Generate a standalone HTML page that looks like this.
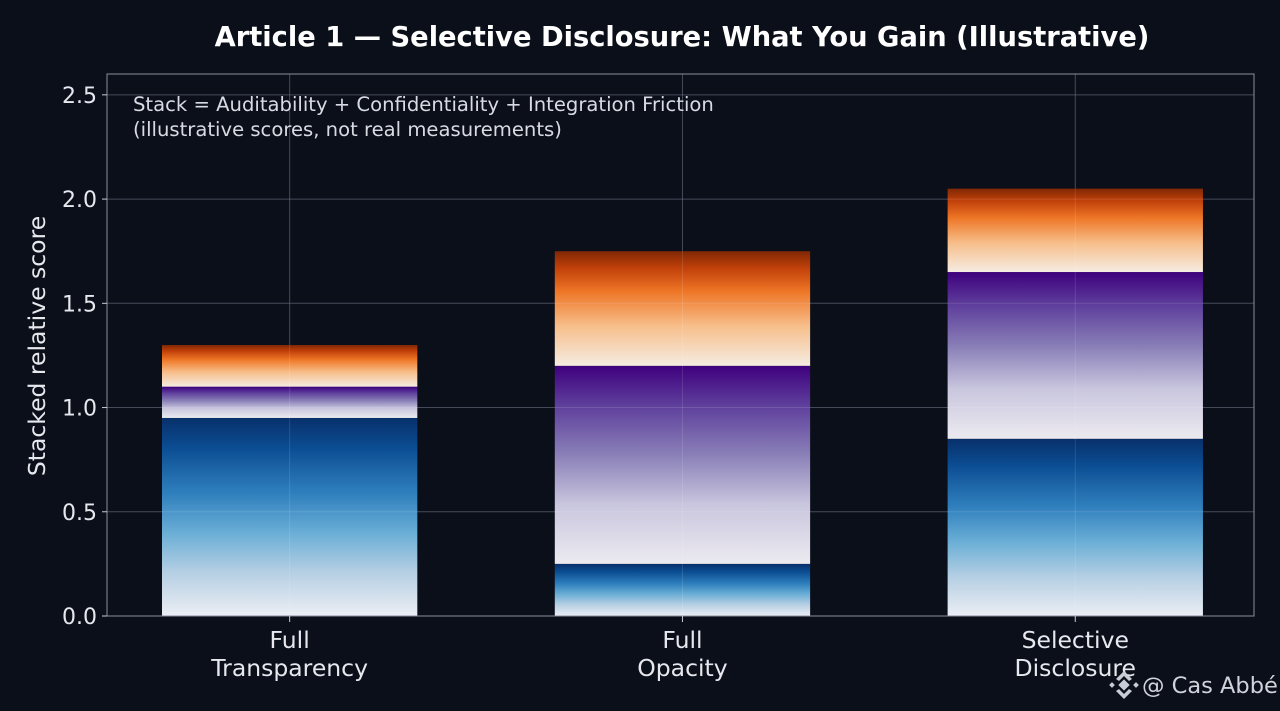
<!DOCTYPE html>
<html><head><meta charset="utf-8"><style>
html,body{margin:0;padding:0;background:#0b0f19;}
svg{display:block;font-family:"DejaVu Sans","Liberation Sans",sans-serif;}
</style></head><body>
<svg id="chart" width="1280" height="711" viewBox="0 0 1280 711" xmlns="http://www.w3.org/2000/svg">
<defs>
<linearGradient id="gBlue" x1="0" y1="0" x2="0" y2="1">
<stop offset="0" stop-color="#08306b"/><stop offset="0.15" stop-color="#0b4d92"/><stop offset="0.38" stop-color="#2f7fbd"/><stop offset="0.58" stop-color="#6aaed6"/><stop offset="0.78" stop-color="#b5cfe3"/><stop offset="1" stop-color="#eceef4"/>
</linearGradient>
<linearGradient id="gPurple" x1="0" y1="0" x2="0" y2="1">
<stop offset="0" stop-color="#3f007d"/><stop offset="0.2" stop-color="#5e3f9c"/><stop offset="0.45" stop-color="#8a80b8"/><stop offset="0.7" stop-color="#c9c6de"/><stop offset="1" stop-color="#eceaf0"/>
</linearGradient>
<linearGradient id="gOrange" x1="0" y1="0" x2="0" y2="1">
<stop offset="0" stop-color="#7f2704"/><stop offset="0.15" stop-color="#c2410a"/><stop offset="0.35" stop-color="#ee7626"/><stop offset="0.65" stop-color="#f7be8a"/><stop offset="1" stop-color="#f5ece2"/>
</linearGradient>
</defs>
<text x="682" y="46" text-anchor="middle" fill="#ffffff" font-size="27.3" font-weight="bold">Article 1 — Selective Disclosure: What You Gain (Illustrative)</text>
<g id="grid"></g>
<g id="bars"></g>
<g id="gridTop"></g>
<rect x="107" y="74" width="1147" height="542" fill="none" stroke="#8a8fa0" stroke-width="1"/>
<g id="axes"></g>
<text x="133" y="111" fill="#d8dbe2" font-size="19.6">Stack = Auditability + Confidentiality + Integration Friction</text>
<text x="133" y="136" fill="#d8dbe2" font-size="19.6">(illustrative scores, not real measurements)</text>
<text transform="translate(45,346) rotate(-90)" text-anchor="middle" fill="#e6e8ee" font-size="23.5">Stacked relative score</text>
<g>
<g transform="translate(1124,685)" fill="#c8ccd4"><rect x="-4" y="-4" width="8" height="8" transform="rotate(45)"/><rect x="-14" y="-2" width="4" height="4" transform="rotate(45 -12 0)"/><rect x="10" y="-2" width="4" height="4" transform="rotate(45 12 0)"/><path d="M-8 6 L0 14 L8 6 L5 4 L0 9 L-5 4 Z"/><path d="M-8 -6 L0 -14 L8 -6 L5 -4 L0 -9 L-5 -4 Z"/></g>
<text x="1142" y="693" fill="#d0d3da" font-size="22.5">@ Cas Abbé</text>
</g>
</svg>
<script>
const categories = ["Full\nTransparency", "Full\nOpacity", "Selective\nDisclosure"];
const auditability = [0.95, 0.25, 0.85];
const confidentiality = [0.15, 0.95, 0.80];
const friction = [0.20, 0.55, 0.40];
const yTicks = [0.0, 0.5, 1.0, 1.5, 2.0, 2.5];
const yTickLabels = ["0.0", "0.5", "1.0", "1.5", "2.0", "2.5"];

const NS = "http://www.w3.org/2000/svg";
const plot = {x0:107, x1:1254, y0:74, y1:616};
const yMax = 2.6, xMin = -0.465, xMax = 2.455;
function yS(v){ return plot.y1 - v/yMax*(plot.y1-plot.y0); }
function xS(i){ return plot.x0 + (i - xMin)/(xMax - xMin)*(plot.x1-plot.x0); }
const barW = 0.65*(plot.x1-plot.x0)/(xMax-xMin);
function mk(tag, attrs, parent){ const e=document.createElementNS(NS,tag); for(const k in attrs) e.setAttribute(k, attrs[k]); parent.appendChild(e); return e; }

const grid = document.getElementById('grid');
const gridTop = document.getElementById('gridTop');
const bars = document.getElementById('bars');
const axes = document.getElementById('axes');

yTicks.forEach((t,i)=>{
  const y=yS(t);
  const l=mk('line',{x1:plot.x0,x2:plot.x1,y1:y,y2:y,stroke:'#2c3244','stroke-width':1},grid);
  
  
  const lt=mk('line',{x1:plot.x0,x2:plot.x1,y1:y,y2:y,stroke:'#ffffff','stroke-opacity':0.12,'stroke-width':1},gridTop);
  
  
  const tk=mk('line',{x1:plot.x0-5,x2:plot.x0,y1:y,y2:y,stroke:'#c8ccd4','stroke-width':1},axes);
  
  
  const tx=mk('text',{x:plot.x0-10,y:y+8,'text-anchor':'end',fill:'#e6e8ee','font-size':22},axes);
  tx.textContent=yTickLabels[i];
  
  
});

categories.forEach((c,i)=>{
  const cx=xS(i);
  const gl=mk('line',{x1:cx,x2:cx,y1:plot.y0,y2:plot.y1,stroke:'#2c3244','stroke-width':1},grid);
  
  
  const segs=[[auditability[i],'gBlue','auditability'],[confidentiality[i],'gPurple','confidentiality'],[friction[i],'gOrange','friction']];
  let base=0;
  segs.forEach(s=>{
    const top=base+s[0];
    const r=mk('rect',{x:cx-barW/2,y:yS(top),width:barW,height:yS(base)-yS(top),fill:'url(#'+s[1]+')'},bars);
    
    
    base=top;
  });
  const glt=mk('line',{x1:cx,x2:cx,y1:plot.y0,y2:plot.y1,stroke:'#ffffff','stroke-opacity':0.12,'stroke-width':1},gridTop);
  
  
  const tk=mk('line',{x1:cx,x2:cx,y1:plot.y1,y2:plot.y1+6,stroke:'#c8ccd4','stroke-width':1},axes);
  
  
  c.split('\n').forEach((ln,j)=>{
    const t=mk('text',{x:cx,y:648+j*28,'text-anchor':'middle',fill:'#e6e8ee','font-size':23.5},axes);
    t.textContent=ln;
    
    
  });
});
</script>
</body></html>
